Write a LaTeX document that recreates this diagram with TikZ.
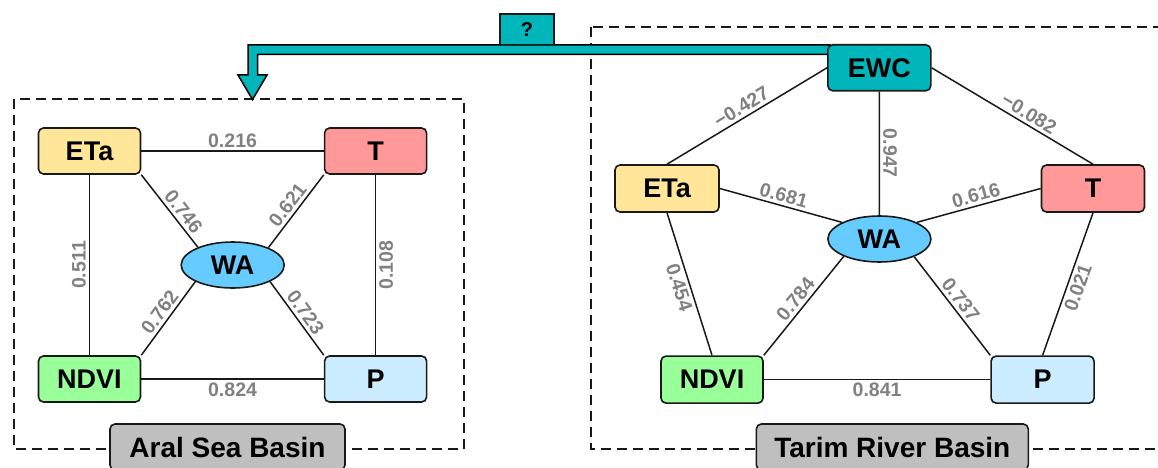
\documentclass[tikz,border=0pt]{standalone}
\usepackage{fontspec}
\setmainfont{Liberation Sans}
\usetikzlibrary{shapes.geometric}
\definecolor{etac}{HTML}{FFE699}
\definecolor{tc}{HTML}{FF9999}
\definecolor{ndvic}{HTML}{99FF99}
\definecolor{pc}{HTML}{CCECFF}
\definecolor{wac}{HTML}{66CCFF}
\definecolor{tealc}{HTML}{00B6BA}
\definecolor{basinc}{HTML}{BFBFBF}
\definecolor{lblc}{HTML}{808080}
\begin{document}
\begin{tikzpicture}[x=1pt,y=-1pt,
  box/.style={draw=black!90, line width=1.6pt, rounded corners=5pt, inner sep=0pt,
    minimum width=102pt, minimum height=46pt, font=\fontsize{27}{27}\selectfont\bfseries},
  waell/.style={ellipse, draw=black!90, line width=1.6pt, fill=wac, inner sep=0pt,
    minimum width=103pt, minimum height=46pt, font=\fontsize{27}{27}\selectfont\bfseries},
  basin/.style={box, fill=basinc, minimum height=46pt, font=\fontsize{28}{28}\selectfont\bfseries},
  lbl/.style={text=lblc, font=\fontsize{19.5}{19.5}\selectfont\bfseries, inner sep=3pt},
  conn/.style={line width=1.5pt, black!90},
  frame/.style={line width=2pt, dash pattern=on 10pt off 6pt, black!90}]
\useasboundingbox (0,0) rectangle (1158,468);
\clip (0,0) rectangle (1158,468);
% frames
\draw[frame] (13.8,99.3) rectangle (463.8,449.3);
\draw[frame] (591,27.3) rectangle (1175,449.3);
% teal arrow
\draw[fill=tealc, line width=1.5pt, line join=miter]
  (830,45) -- (248,45) -- (248,75) -- (238,75) -- (252.5,99.5) -- (267,75) -- (257.5,75)
  -- (257.5,54.3) -- (830,54.3) -- cycle;
\node[draw=black!90, line width=1.5pt, fill=tealc, minimum width=54pt, minimum height=30.5pt,
  inner sep=0pt, font=\fontsize{20}{20}\selectfont\bfseries] (q) at (527,29.5) {?};

% ---------------- left panel
\node[box, fill=etac] (leta) at (89.5,151) {ETa};
\node[box, fill=tc] (lt) at (375.6,151) {T};
\node[box, fill=ndvic] (lndvi) at (89.5,379) {NDVI};
\node[box, fill=pc] (lp) at (375.6,379) {P};
\node[waell] (lwa) at (232.7,265) {WA};
\node[basin, minimum width=235pt] (aral) at (227.5,447) {Aral Sea Basin};

\draw[conn] (leta.east) -- node[lbl, above] {0.216} (lt.west);
\draw[conn] (lndvi.east) -- node[lbl, below] {0.824} (lp.west);
\draw[conn] (lndvi.north) -- node[lbl, sloped, above, pos=0.5] {0.511} (leta.south);
\draw[conn] (lp.north) -- node[lbl, sloped, below, pos=0.5] {0.108} (lt.south);
\draw[conn] (leta.south east) -- node[lbl, sloped, above, pos=0.6] {0.746} (lwa.153);
\draw[conn] (lwa.26) -- node[lbl, sloped, above, pos=0.5] {0.621} (lt.south west);
\draw[conn] (lndvi.north east) -- node[lbl, sloped, above, pos=0.5] {0.762} (lwa.204);
\draw[conn] (lwa.336) -- node[lbl, sloped, above, pos=0.5] {0.723} (lp.north west);

% ---------------- right panel
\node[box, fill=tealc, minimum width=103pt] (ewc) at (879.3,67.8) {EWC};
\node[box, fill=etac, minimum width=104pt, minimum height=47pt] (reta) at (667,188.5) {ETa};
\node[box, fill=tc, minimum width=103pt, minimum height=47pt] (rt) at (1093,188.5) {T};
\node[waell] (rwa) at (879.4,239) {WA};
\node[box, fill=ndvic, minimum height=47pt] (rndvi) at (712,379.6) {NDVI};
\node[box, fill=pc, minimum width=103pt, minimum height=47pt] (rp) at (1042.6,379.6) {P};
\node[basin, minimum width=272pt] (tarim) at (892.3,447) {Tarim River Basin};

\draw[conn] (reta.north) -- node[lbl, sloped, above, pos=0.5] {−0.427} (ewc.west);
\draw[conn] (ewc.east) -- node[lbl, sloped, above, pos=0.57] {−0.082} (rt.north);
\draw[conn] (ewc.south) -- node[lbl, sloped, above, allow upside down, pos=0.5] {0.947} (rwa.north);
\draw[conn] (reta.east) -- node[lbl, sloped, above, pos=0.5] {0.681} (rwa.156);
\draw[conn] (rwa.24) -- node[lbl, sloped, above, pos=0.5] {0.616} (rt.west);
\draw[conn] (reta.south) -- node[lbl, sloped, below, pos=0.5] {0.454} (rndvi.north);
\draw[conn] (rp.north) -- node[lbl, sloped, below, pos=0.5] {0.021} (rt.south);
\draw[conn] (rndvi.north east) -- node[lbl, sloped, above, pos=0.5] {0.784} (rwa.206);
\draw[conn] (rwa.333) -- node[lbl, sloped, above, pos=0.5] {0.737} (rp.north west);
\draw[conn] (rndvi.east) -- node[lbl, below] {0.841} (rp.west);
\end{tikzpicture}
\end{document}
